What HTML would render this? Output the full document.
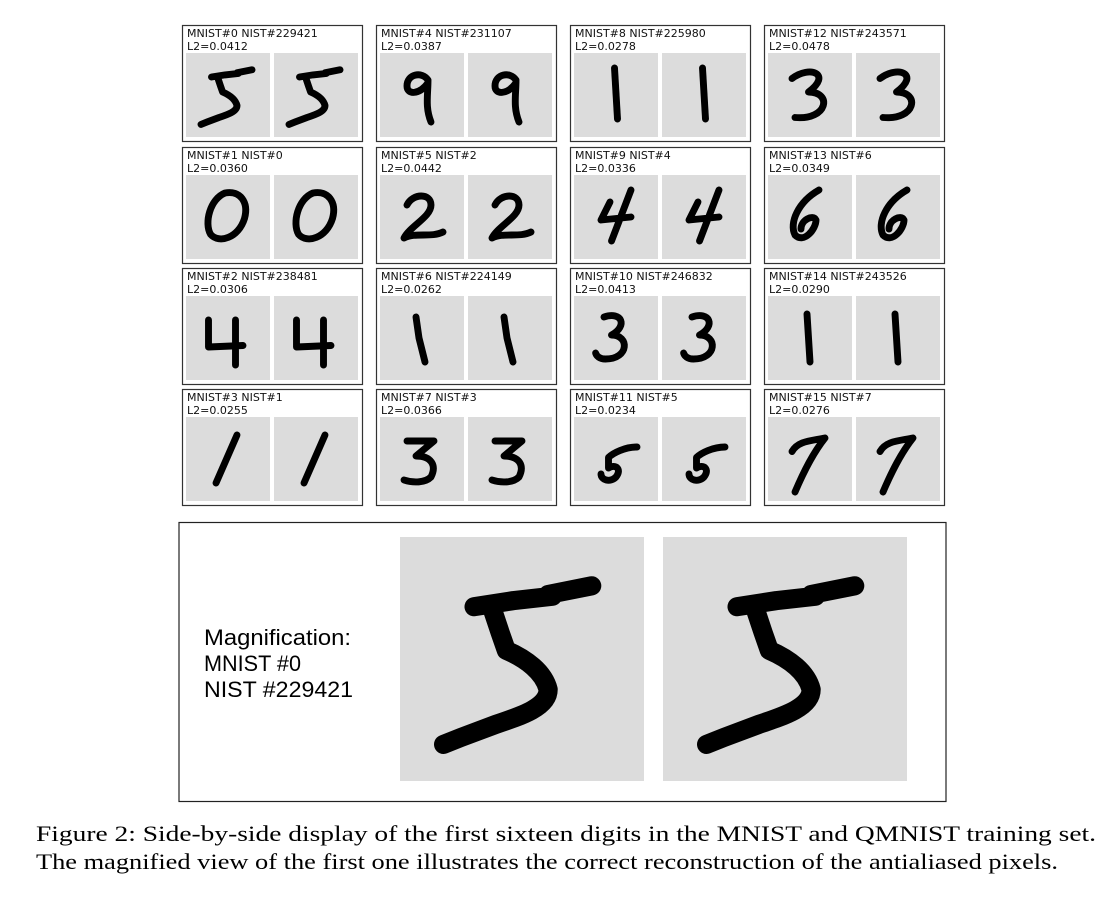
<!DOCTYPE html>
<html><head><meta charset="utf-8"><style>
html,body{margin:0;padding:0;background:#fff}
svg{display:block}
</style></head><body>
<svg id="fig" width="1120" height="908" viewBox="0 0 1120 908" xmlns="http://www.w3.org/2000/svg">
<g id="grid"></g>
<rect x="179" y="522.5" width="767" height="279" fill="none" stroke="#222" stroke-width="1.2"/>
<text x="204" y="645" font-family="Liberation Sans, sans-serif" font-size="22" textLength="147" lengthAdjust="spacingAndGlyphs" fill="#000">Magnification:</text>
<text x="204" y="671" font-family="Liberation Sans, sans-serif" font-size="22" textLength="97" lengthAdjust="spacingAndGlyphs" fill="#000">MNIST #0</text>
<text x="204" y="697" font-family="Liberation Sans, sans-serif" font-size="22" textLength="149" lengthAdjust="spacingAndGlyphs" fill="#000">NIST #229421</text>
<g id="mag"></g>
<text x="36" y="841" font-family="Liberation Serif, serif" font-size="22" textLength="1060" lengthAdjust="spacingAndGlyphs">Figure 2:   Side-by-side display of the first sixteen digits in the MNIST and QMNIST training set.</text>
<text x="36" y="869" font-family="Liberation Serif, serif" font-size="22" textLength="1022" lengthAdjust="spacingAndGlyphs">The magnified view of the first one illustrates the correct reconstruction of the antialiased pixels.</text>
</svg>
<script>
const mnistIds=[0,1,2,3,4,5,6,7,8,9,10,11,12,13,14,15];
const nistIds=[229421,0,238481,1,231107,2,224149,3,225980,4,246832,5,243571,6,243526,7];
const l2Values=["0.0412","0.0360","0.0306","0.0255","0.0387","0.0442","0.0262","0.0366","0.0278","0.0336","0.0413","0.0234","0.0478","0.0349","0.0290","0.0276"];
const digitPaths=[
"M8.5 8 L13 7.3 L17.5 6.8 M17 6.6 L22 5.6 M10.5 8 L11.5 11 L12.2 13 C14.5 14 16.5 15.5 17 17.5 C17 19.5 14 20.5 11 21.5 L7 23 L5 23.8",
"M13 6 C18 5 21 9 19.5 14.5 C17.5 21 11 23 8.2 19.8 C6 16 8 8 13 6 Z",
"M7.5 8 L7.5 17 L19 16.5 M16.5 8 L16.5 23",
"M17 6 L10 22",
"M16 9 C14 6 9 7 9 11 C9 14 13 14 16 10 M16 9 C16 14 15 18 17 23",
"M9 10 C11 6 17 6 17 10 C17 14 10 17 8 21 C12 19 17 21 21 19",
"M12 7 L13 14 L15 22",
"M9 8 L18 8 L12 13 C17 13 19 16 17 20 C15 22 11 22 8 21",
"M13.5 5 L14.5 22",
"M12 9 L9 15 L19 14 M19 5 L12.5 22",
"M10 7 C16 5 18 10 12.5 13 C18.5 13 18.5 21 10.5 21 C8.5 21 7.5 20 7.2 19",
"M21 10 C17 10 13 12 11.5 13.5 L11.5 17 C14 15.5 16 17.5 14 20 C12 22 9 21 9 19",
"M8 8.5 C14 4 21.5 7 13.5 13 C21.5 13 20 22.5 9 21.5",
"M17 5 C10 9 7 16 9 20 C12 23 16 18 16 15 C15 13 11 15 11 18",
"M13 6 L14 22",
"M8 11.5 C10 8 14 8 19 7 C15 12 12 18 9 25"
];
const NS="http://www.w3.org/2000/svg";
const grid=document.getElementById('grid');
function mk(tag,attrs,parent){const e=document.createElementNS(NS,tag);for(const k in attrs)e.setAttribute(k,attrs[k]);parent.appendChild(e);return e;}
function drawDigit(parent,x,y,size,d,w){
  const sq=mk('rect',{x:x,y:y,width:size,height:size,fill:'#dcdcdc'},parent);
  
  
  const s=size/28;
  const p=mk('path',{d:d,transform:`translate(${x},${y}) scale(${s})`,fill:'none',stroke:'#000','stroke-width':w,'stroke-linecap':'round','stroke-linejoin':'round'},parent);
  
  
}
const rowY=[25,147,268,389];
for(let i=0;i<mnistIds.length;i++){
  const c=Math.floor(i/4), r=i%4;
  const x=182+194*c, y=rowY[r];
  const g=mk('g',{},grid);
  
  
  const fr=mk('rect',{x:x+0.5,y:y+0.5,width:180,height:116,fill:'#fff',stroke:'#333','stroke-width':1.2},g);
  
  
  const t1=mk('text',{x:x+5,y:y+12,'font-family':'DejaVu Sans, sans-serif','font-size':11,fill:'#111'},g);
  t1.textContent='MNIST#'+mnistIds[i]+' NIST#'+nistIds[i];
  
  
  const t2=mk('text',{x:x+5,y:y+25,'font-family':'DejaVu Sans, sans-serif','font-size':11,fill:'#111'},g);
  t2.textContent='L2='+l2Values[i];
  
  
  drawDigit(g,x+4,y+28,84,digitPaths[i],2.3);
  drawDigit(g,x+92,y+28,84,digitPaths[i],2.3);
}
const mag=document.getElementById('mag');
drawDigit(mag,400,537,244,digitPaths[0],2.2);
drawDigit(mag,663,537,244,digitPaths[0],2.2);
</script>
</body></html>
